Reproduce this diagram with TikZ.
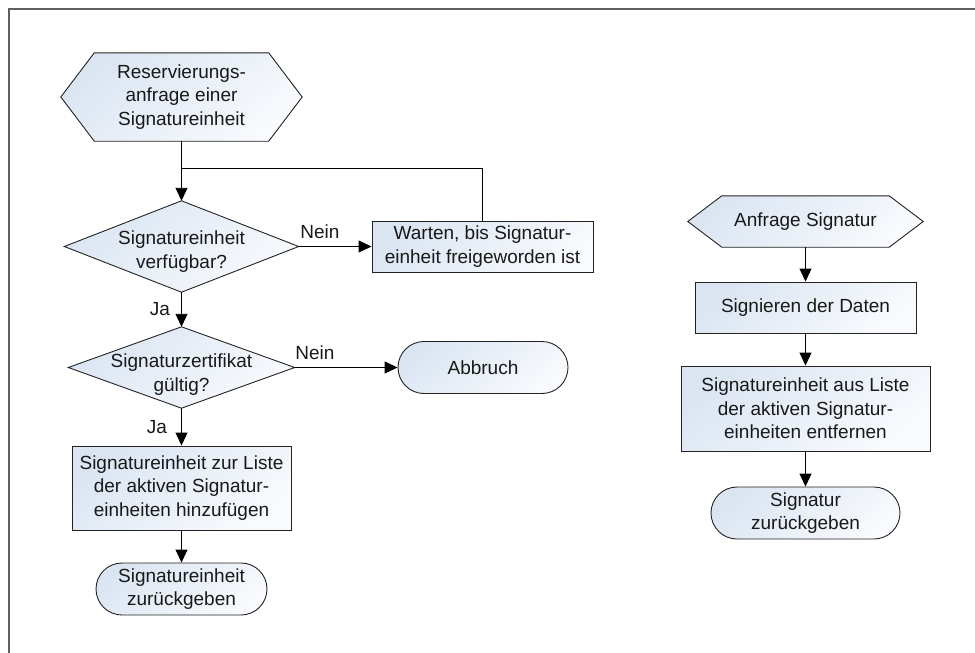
\documentclass[tikz,border=0pt]{standalone}
\usepackage{fontspec}
\setmainfont{Liberation Sans}
\usetikzlibrary{arrows.meta,backgrounds}
\definecolor{fillA}{RGB}{219,229,242}
\definecolor{fillB}{RGB}{248,250,253}
\definecolor{edge}{RGB}{35,35,35}
\definecolor{framec}{RGB}{95,95,95}
\tikzset{
  shp/.style={shade, top color=fillA, bottom color=fillB, shading angle=40, draw=edge, line width=0.9pt},
  txt/.style={font=\fontsize{19}{23.3}\selectfont, align=center, text=black!90, inner sep=0pt},
  boxn/.style={txt, shp, rectangle},
  term/.style={txt, shp, rectangle, rounded corners=26pt, minimum height=52pt},
  ghost/.style={txt, draw=none, rectangle},
  arr/.style={-{Triangle[length=13pt,width=12pt]}, line width=0.9pt, black},
  ln/.style={line width=0.9pt, black},
  lbl/.style={font=\fontsize{19}{23}\selectfont, inner sep=0pt, text=black!90},
  framel/.style={line width=1.6pt, framec}
}
\begin{document}
\begin{tikzpicture}[x=1pt,y=-1pt]
\useasboundingbox (0,0) rectangle (975,653);
\draw[framel] (9,653) -- (9,9) -- (975,9);

% left column
\node[ghost, minimum width=241pt, minimum height=88pt] (h1) at (181.5,97) {Reservierungs-\\anfrage einer\\Signatureinheit};
\node[ghost, minimum width=234pt, minimum height=91pt] (d1) at (181.5,246.5) {};
\node[txt] (d1t) at ([yshift=-5pt]d1.center) {Signatureinheit\\verfügbar?};
\node[boxn, minimum width=221pt, minimum height=51pt] (w) at (482.5,246.5) {Warten, bis Signatur-\\einheit freigeworden ist};
\node[ghost, minimum width=226pt, minimum height=81pt] (d2) at (181.5,367.5) {};
\node[txt] (d2t) at ([yshift=-7pt]d2.center) {Signaturzertifikat\\gültig?};
\node[term, minimum width=170pt] (ab) at (483,367.5) {Abbruch};
\node[boxn, minimum width=219pt, minimum height=84pt] (b3) at (181.5,488) {Signatureinheit zur Liste\\der aktiven Signatur-\\einheiten hinzufügen};
\node[term, minimum width=171pt] (t1) at (181.5,589) {Signatureinheit\\zurückgeben};

% right column
\node[ghost, minimum width=235pt, minimum height=51pt] (h2) at (805.5,221.5) {Anfrage Signatur};
\node[boxn, minimum width=221pt, minimum height=51pt] (s1) at (805.5,307.5) {Signieren der Daten};
\node[boxn, minimum width=249pt, minimum height=85pt] (s2) at (805.5,408.5) {Signatureinheit aus Liste\\der aktiven Signatur-\\einheiten entfernen};
\node[term, minimum width=189pt] (t2) at (805.5,513) {Signatur\\zurückgeben};

\begin{scope}[on background layer]
\path[shp] ([xshift=33.5pt]h1.north west) -- ([xshift=-33.5pt]h1.north east) -- (h1.east)
  -- ([xshift=-33.5pt]h1.south east) -- ([xshift=33.5pt]h1.south west) -- (h1.west) -- cycle;
\path[shp] ([xshift=34pt]h2.north west) -- ([xshift=-34pt]h2.north east) -- (h2.east)
  -- ([xshift=-34pt]h2.south east) -- ([xshift=34pt]h2.south west) -- (h2.west) -- cycle;
\path[shp] (d1.north) -- (d1.east) -- (d1.south) -- (d1.west) -- cycle;
\path[shp] (d2.north) -- (d2.east) -- (d2.south) -- (d2.west) -- cycle;
\end{scope}

% connectors
\coordinate (j) at (181.5,168);
\draw[arr] (h1.south) -- (d1.north);
\draw[ln] (w.north) |- (j);
\draw[arr] (d1.east) -- (w.west);
\draw[arr] (d1.south) -- (d2.north);
\draw[arr] (d2.east) -- (ab.west);
\draw[arr] (d2.south) -- (b3.north);
\draw[arr] (b3.south) -- (t1.north);
\draw[arr] (h2.south) -- (s1.north);
\draw[arr] (s1.south) -- (s2.north);
\draw[arr] (s2.south) -- (t2.north);

% labels
\node[lbl] (n1) at (320,232) {Nein};
\node[lbl] (n2) at (315,353) {Nein};
\node[lbl] (ja1) at (160,309) {Ja};
\node[lbl] (ja2) at (157,427) {Ja};
\end{tikzpicture}
\end{document}
